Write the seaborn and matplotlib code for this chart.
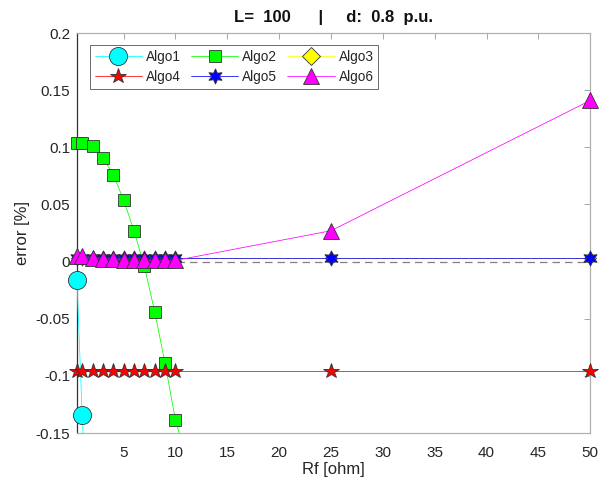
import numpy as np
import pandas as pd
import matplotlib as mpl
mpl.use("Agg")
import matplotlib.pyplot as plt
import seaborn as sns
from matplotlib.lines import Line2D
from matplotlib.transforms import Bbox, TransformedBbox

# fault resistance [ohm]
rf = [0.5, 1, 2, 3, 4, 5, 6, 7, 8, 9, 10, 25, 50]

# error [%] per algorithm (values below -0.15 lie off the chart)
algo1 = [-0.016, -0.134, -0.31, -0.45, -0.58, -0.70, -0.80, -0.90, -1.00, -1.10, -1.20, -1.50, -2.00]
algo2 = [0.1035, 0.1035, 0.101, 0.091, 0.076, 0.054, 0.027, -0.004, -0.044, -0.089, -0.139, -0.60, -1.20]
algo3 = [0.003, 0.003, 0.003, 0.003, 0.003, 0.003, 0.003, 0.003, 0.003, 0.003, 0.003, 0.003, 0.003]
algo4 = [-0.0955, -0.0955, -0.0955, -0.0955, -0.0955, -0.0955, -0.0955, -0.0955, -0.0955, -0.0955, -0.0955, -0.0955, -0.0955]
algo5 = [0.003, 0.003, 0.003, 0.003, 0.003, 0.003, 0.003, 0.003, 0.003, 0.003, 0.003, 0.003, 0.003]
algo6 = [0.0045, 0.0045, 0.0035, 0.0025, 0.002, 0.0015, 0.001, 0.001, 0.001, 0.001, 0.001, 0.027, 0.141]

names = ["Algo1", "Algo2", "Algo3", "Algo4", "Algo5", "Algo6"]
series = [algo1, algo2, algo3, algo4, algo5, algo6]

df = pd.concat(
    [pd.DataFrame({"Rf": rf, "error": s, "algo": n}) for n, s in zip(names, series)],
    ignore_index=True,
)

colors = dict(zip(names, ["#00ffff", "#00ff00", "#ffff00", "#ff0000", "#0000ff", "#ff00ff"]))
markers = dict(zip(names, ["o", "s", "D", "*", (6, 1, 0), "^"]))
msizes = dict(zip(names, [13, 8.5, 6, 11.5, 11, 12]))
leg_sizes = dict(zip(names, [13, 8.5, 9.5, 11.5, 11, 12]))

sns.set_theme(style="white", context="paper")
plt.rcParams["font.family"] = ["Liberation Sans", "DejaVu Sans"]
plt.rcParams["text.color"] = "#262626"

fig = plt.figure(figsize=(6.06, 4.88), dpi=100)
ax = fig.add_axes([0.127, 0.1127, 0.847, 0.8196])

ax.axhline(0, color="#808080", lw=0.9, ls=(0, (6, 4)), zorder=1)

for n in names:
    sub = df[df["algo"] == n]
    sns.lineplot(
        data=sub, x="Rf", y="error", ax=ax, color=colors[n], marker=markers[n],
        markersize=msizes[n], markeredgecolor="#333333", markeredgewidth=0.6,
        linewidth=0.55, sort=False, estimator=None, legend=False, zorder=3,
    )

# let markers at the x limits overhang the box like in MATLAB
clip = TransformedBbox(Bbox([[-0.03, 0], [1.03, 1]]), ax.transAxes)
for ln in ax.lines[1:]:
    ln.set_clip_box(clip)

ax.set_xlim(0.5, 50)
ax.set_ylim(-0.15, 0.2)
ax.set_xticks([5, 10, 15, 20, 25, 30, 35, 40, 45, 50])
ax.set_yticks([-0.15, -0.1, -0.05, 0, 0.05, 0.1, 0.15, 0.2])
ax.set_yticklabels(["-0.15", "-0.1", "-0.05", "0", "0.05", "0.1", "0.15", "0.2"])
ax.tick_params(direction="in", length=4, width=0.6, top=True, right=True,
               labelsize=11, colors="#999999", labelcolor="#262626")
ax.tick_params(axis="x", pad=9)
ax.tick_params(axis="y", pad=5)

for side, sp in ax.spines.items():
    sp.set_visible(True)
    sp.set_linewidth(0.9)
    sp.set_color("#333333" if side == "left" else "#b0b0b0")

ax.set_xlabel("Rf [ohm]", fontsize=12, color="#262626", labelpad=2)
ax.set_ylabel("error [%]", fontsize=12, color="#262626", labelpad=4)
ax.set_title("L=  100      |     d:  0.8  p.u.", fontsize=12, fontweight="bold",
             color="#111111", pad=8)

handles = [
    Line2D([], [], color=colors[n], lw=0.55, marker=markers[n], markersize=leg_sizes[n],
           markerfacecolor=colors[n], markeredgecolor="#333333", markeredgewidth=0.6)
    for n in names
]
# legend fills column by column, so reorder to get row-major layout
order = [0, 3, 1, 4, 2, 5]
leg = ax.legend([handles[i] for i in order], [names[i] for i in order], ncol=3,
                loc="upper left", bbox_to_anchor=(0.025, 0.97), borderaxespad=0,
                fontsize=9.8, frameon=True, fancybox=False, handlelength=3.5,
                handletextpad=0.3, columnspacing=0.7, labelspacing=0.45,
                borderpad=0.35)
leg.get_frame().set_edgecolor("#444444")
leg.get_frame().set_linewidth(0.7)

fig.savefig("out.png", dpi=100)
